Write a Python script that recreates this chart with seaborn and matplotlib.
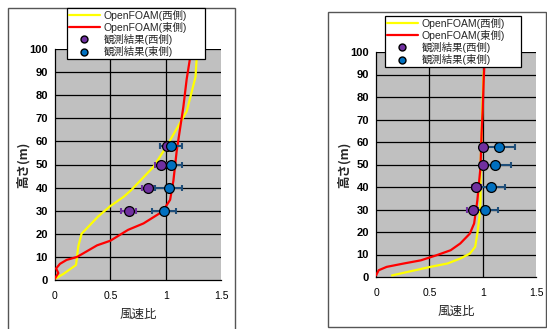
import numpy as np
import pandas as pd
import matplotlib
matplotlib.use("Agg")
import matplotlib.pyplot as plt
from matplotlib.patches import Rectangle
from matplotlib.lines import Line2D
import seaborn as sns

sns.set_style("white")
plt.rcParams['font.family'] = ['Liberation Sans', 'Noto Sans CJK JP', 'DejaVu Sans']

# ---- Left chart data ----
L_west_x = [0.006, 0.075, 0.19, 0.21, 0.24, 0.30, 0.39, 0.50, 0.62, 0.69, 0.77, 0.89, 1.01, 1.13, 1.19, 1.27, 1.28]
L_west_y = [0.7, 2.6, 6.5, 14.5, 20, 23, 27.5, 32, 36, 39, 43, 49, 58, 68, 73, 88, 96]
L_east_x = [0.0, 0.03, 0.01, 0.045, 0.105, 0.2, 0.38, 0.5, 0.66, 0.8, 0.95, 0.99, 1.04, 1.07, 1.1, 1.16, 1.19, 1.22]
L_east_y = [0.7, 3, 5, 7, 8.7, 10, 15, 17, 21.7, 24.5, 29, 31, 34.7, 43, 56, 75, 87, 96]
L_obs_h = [30, 40, 50, 58]
L_obs_west = [0.665, 0.84, 0.955, 1.01]
L_obs_west_err = [0.07, 0.05, 0.05, 0.06]
L_obs_east = [0.985, 1.027, 1.045, 1.048]
L_obs_east_err = [0.11, 0.12, 0.10, 0.10]

# ---- Right chart data ----
R_west_x = [0.15, 0.29, 0.51, 0.67, 0.79, 0.88, 0.93, 0.95, 0.97, 0.98, 0.98, 0.99, 1.0, 1.01]
R_west_y = [0.7, 2.2, 4.5, 6, 8.2, 10.4, 13.4, 19.3, 26.7, 34, 49, 64, 79, 91.5]
R_east_x = [0.0, 0.025, 0.10, 0.26, 0.42, 0.57, 0.70, 0.79, 0.88, 0.92, 0.95, 0.98, 0.99, 1.0, 1.01, 1.015]
R_east_y = [0.7, 3, 4.5, 6, 7.4, 9.7, 11.9, 14.9, 19.3, 23.8, 34, 49, 64, 74, 88, 93]
R_obs_h = [30, 40, 50, 58]
R_obs_west = [0.906, 0.94, 1.003, 1.003]
R_obs_west_err = [0.05, 0.04, 0.03, 0.03]
R_obs_east = [1.02, 1.08, 1.12, 1.153]
R_obs_east_err = [0.12, 0.125, 0.145, 0.15]

labels = ["OpenFOAM(西側)", "OpenFOAM(東側)", "観測結果(西側)", "観測結果(東側)"]
x_ticks = [0, 0.5, 1, 1.5]
x_tick_labels = ["0", "0.5", "1", "1.5"]
y_ticks = list(range(0, 101, 10))

YELLOW = "#FFFF00"
RED = "#FF0000"
PURPLE = "#7030A0"
BLUE = "#0070C0"
EB_PURPLE = "#7030A0"
EB_BLUE = "#1F4E79"

fig = plt.figure(figsize=(5.47, 3.29), dpi=100)
W, H = 547, 329

def fx(px):
    return px / W

def fy(py):
    return 1 - py / H

# outer frames
fig.patches.append(Rectangle((fx(8), fy(340)), fx(235) - fx(8), fy(8) - fy(340),
                             transform=fig.transFigure, fill=False, edgecolor="#555555", lw=1.0))
fig.patches.append(Rectangle((fx(328), fy(327)), fx(546) - fx(328), fy(12) - fy(327),
                             transform=fig.transFigure, fill=False, edgecolor="#555555", lw=1.0))

def draw(ax_box, wx, wy, ex, ey, h, ow, owe, oe, oee, leg_box):
    l, t, r, b = ax_box
    ax = fig.add_axes([fx(l), fy(b), fx(r) - fx(l), fy(t) - fy(b)])
    ax.set_facecolor("#C0C0C0")
    ax.set_xlim(0, 1.5)
    ax.set_ylim(0, 100)
    for y in y_ticks[1:]:
        ax.axhline(y, color="black", lw=0.9, zorder=1)
    for x in [0.5, 1.0]:
        ax.axvline(x, color="black", lw=0.9, zorder=1)
    dfw = pd.DataFrame({"x": wx, "y": wy})
    dfe = pd.DataFrame({"x": ex, "y": ey})
    sns.lineplot(data=dfw, x="x", y="y", sort=False, estimator=None, color=YELLOW, lw=1.6, ax=ax, zorder=3)
    sns.lineplot(data=dfe, x="x", y="y", sort=False, estimator=None, color=RED, lw=1.6, ax=ax, zorder=4)
    ax.errorbar(ow, h, xerr=owe, fmt="none", ecolor=EB_PURPLE, elinewidth=1.5, capsize=2.5, capthick=1.5, zorder=5)
    ax.errorbar(oe, h, xerr=oee, fmt="none", ecolor=EB_BLUE, elinewidth=1.5, capsize=2.5, capthick=1.5, zorder=5)
    sns.scatterplot(x=ow, y=h, color=PURPLE, edgecolor="black", linewidth=0.9, s=50, ax=ax, zorder=6)
    sns.scatterplot(x=oe, y=h, color=BLUE, edgecolor="black", linewidth=0.9, s=50, ax=ax, zorder=7)
    for s in ["top", "right"]:
        ax.spines[s].set_visible(False)
    for s in ["left", "bottom"]:
        ax.spines[s].set_color("black")
        ax.spines[s].set_linewidth(0.9)
    ax.set_xticks(x_ticks)
    ax.set_xticklabels(x_tick_labels)
    ax.set_xticks(np.arange(0, 1.51, 0.1), minor=True)
    ax.set_yticks(y_ticks)
    ax.set_yticklabels([str(v) for v in y_ticks])
    ax.tick_params(axis="x", which="both", direction="in", length=3, width=0.8, labelsize=7.5, pad=8, colors="black")
    ax.tick_params(axis="y", which="major", direction="out", length=3, width=0.8, labelsize=8, pad=2, colors="black")
    for lab in ax.get_yticklabels():
        lab.set_fontweight("bold")
    ax.set_xlabel("風速比", fontsize=9, labelpad=5, family=["Noto Sans CJK JP"])
    ax.set_ylabel("高さ(m)", fontsize=9, labelpad=0, family=["Noto Sans CJK JP"], fontweight="bold")
    handles = [Line2D([], [], color=YELLOW, lw=1.6),
               Line2D([], [], color=RED, lw=1.6),
               Line2D([], [], marker="o", ls="none", markerfacecolor=PURPLE, markeredgecolor="black", markersize=5),
               Line2D([], [], marker="o", ls="none", markerfacecolor=BLUE, markeredgecolor="black", markersize=5)]
    ll, lt, lr, lb = leg_box
    leg = fig.legend(handles, labels, loc="upper left",
                     bbox_to_anchor=(fx(ll), fy(lb), fx(lr) - fx(ll), fy(lt) - fy(lb)),
                     bbox_transform=fig.transFigure, mode="expand",
                     frameon=True, fancybox=False, framealpha=1,
                     edgecolor="black", borderpad=0.15, labelspacing=0.12, handlelength=3.0,
                     handletextpad=0.4, borderaxespad=0,
                     prop={"family": ["Liberation Sans", "Noto Sans CJK JP"], "size": 7.5})
    leg.get_frame().set_linewidth(0.9)
    leg.set_zorder(20)
    return ax

draw((55, 49, 221, 280), L_west_x, L_west_y, L_east_x, L_east_y, L_obs_h,
     L_obs_west, L_obs_west_err, L_obs_east, L_obs_east_err, (67, 8, 205, 56))
draw((376, 52, 536, 277), R_west_x, R_west_y, R_east_x, R_east_y, R_obs_h,
     R_obs_west, R_obs_west_err, R_obs_east, R_obs_east_err, (385, 16, 521, 71))

fig.savefig("out.png", dpi=100)
